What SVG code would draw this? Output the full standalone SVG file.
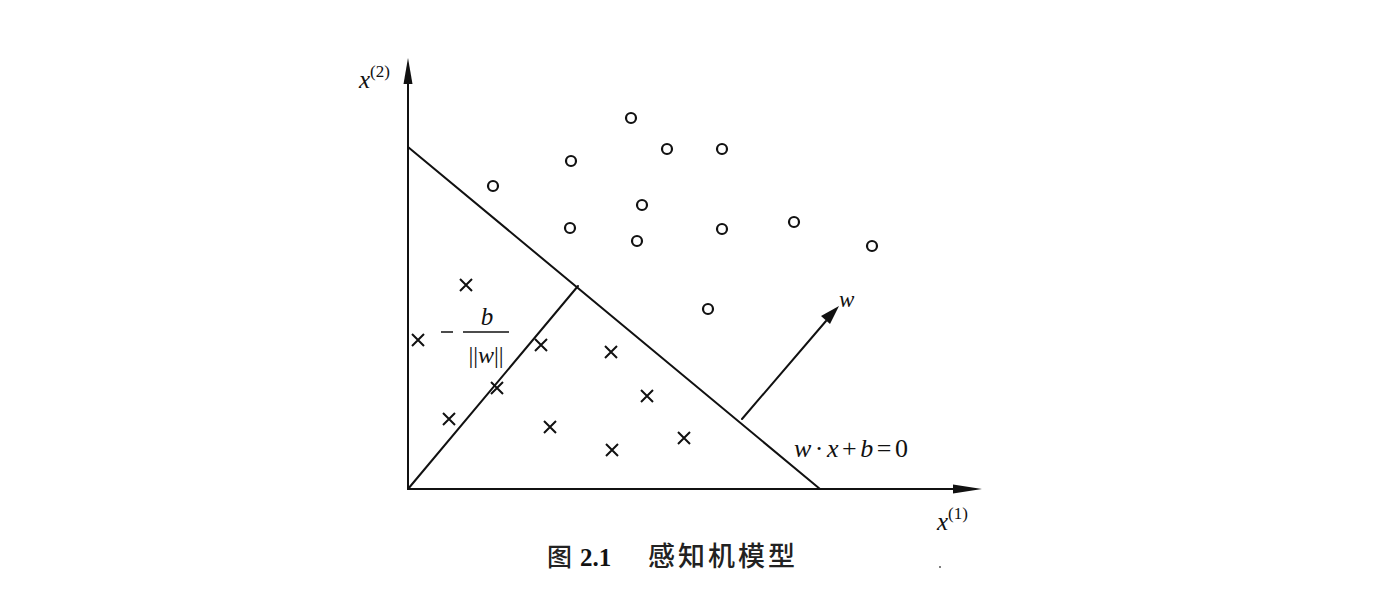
<svg xmlns="http://www.w3.org/2000/svg" width="1374" height="600" viewBox="0 0 1374 600">
<defs>
<style>
.ln{stroke:#111;stroke-width:2;fill:none;stroke-linecap:round}
.o{fill:none;stroke:#111;stroke-width:2.2}
.x{stroke:#111;stroke-width:2;fill:none}
.t{font-family:"Liberation Serif","Times New Roman",serif;font-style:italic;fill:#111}
.n{font-family:"Liberation Serif","Times New Roman",serif;fill:#111}
.cjk{font-family:"Noto Sans CJK SC","Noto Sans CJK JP",sans-serif;fill:#222}
</style>
<symbol id="cross" overflow="visible"><path d="M-6,-6L6,6M-6,6L6,-6"/></symbol>
</defs>
<rect width="1374" height="600" fill="#fff"/>
<g id="connectors">
<line class="ln" x1="408" y1="489" x2="408" y2="80"/>
<polygon points="408,58 403.5,84 412.5,84" fill="#111"/>
<line class="ln" x1="408" y1="489" x2="958" y2="489"/>
<polygon points="982,489 953,484.5 953,493.5" fill="#111"/>
<line class="ln" x1="408" y1="147" x2="820" y2="489"/>
<line class="ln" x1="408" y1="489" x2="578" y2="286"/>
<line class="ln" x1="742" y1="419" x2="826" y2="321"/>
<polygon points="839,306 821,316 830,324" fill="#111"/>
</g>
<g id="positive">
<circle class="o" cx="631" cy="118" r="5"/>
<circle class="o" cx="667" cy="149" r="5"/>
<circle class="o" cx="722" cy="149" r="5"/>
<circle class="o" cx="571" cy="161" r="5"/>
<circle class="o" cx="493" cy="186" r="5"/>
<circle class="o" cx="642" cy="205" r="5"/>
<circle class="o" cx="570" cy="228" r="5"/>
<circle class="o" cx="637" cy="241" r="5"/>
<circle class="o" cx="722" cy="229" r="5"/>
<circle class="o" cx="794" cy="222" r="5"/>
<circle class="o" cx="872" cy="246" r="5"/>
<circle class="o" cx="708" cy="309" r="5"/>
</g>
<g id="negative" class="x">
<use href="#cross" x="466" y="285"/>
<use href="#cross" x="418" y="340"/>
<use href="#cross" x="541" y="345"/>
<use href="#cross" x="611" y="352"/>
<use href="#cross" x="497" y="388"/>
<use href="#cross" x="647" y="396"/>
<use href="#cross" x="449" y="419"/>
<use href="#cross" x="550" y="427"/>
<use href="#cross" x="684" y="438"/>
<use href="#cross" x="612" y="450"/>
</g>
<g id="labels">
<text class="t" x="359" y="88" font-size="25">x<tspan class="n" font-style="normal" font-size="17" dy="-11">(2)</tspan></text>
<text class="t" x="937" y="530" font-size="25">x<tspan class="n" font-style="normal" font-size="17" dy="-11">(1)</tspan></text>
<text class="t" x="839" y="307" font-size="23">w</text>
<text class="t" x="794" y="457" font-size="26" letter-spacing="3.5">w<tspan font-style="normal">·</tspan>x<tspan font-style="normal">+</tspan>b<tspan font-style="normal">=0</tspan></text>
<g id="margin">
<line x1="441" y1="332" x2="453" y2="332" stroke="#111" stroke-width="1.5"/>
<line x1="463" y1="332" x2="509" y2="332" stroke="#111" stroke-width="1.5"/>
<text class="t" x="487" y="325" font-size="25" text-anchor="middle">b</text>
<text class="t" x="486" y="363" font-size="24" text-anchor="middle"><tspan font-style="normal">||</tspan>w<tspan font-style="normal">||</tspan></text>
</g>
</g>
<g id="caption">
<text x="547" y="566" font-size="25" class="cjk" font-weight="500">图</text>
<text x="580" y="566" font-size="25" class="n" font-weight="bold">2.1</text>
<text x="648" y="566" font-size="27" class="cjk" font-weight="500" letter-spacing="3">感知机模型</text>
<circle cx="940" cy="567" r="1" fill="#555"/>
</g>
</svg>
